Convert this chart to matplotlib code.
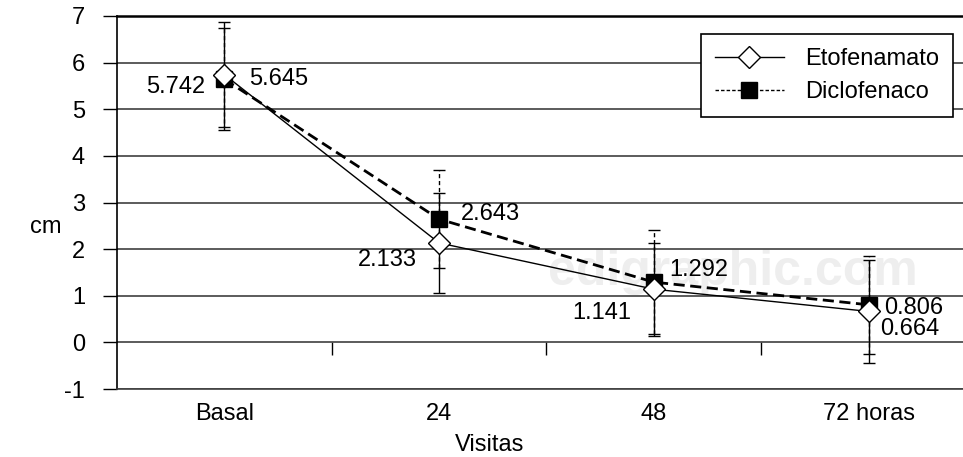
import numpy as np
import matplotlib.pyplot as plt
from matplotlib.lines import Line2D

plt.rcParams['font.family'] = ['Liberation Sans', 'DejaVu Sans']
plt.rcParams['axes.unicode_minus'] = False

visitas = ['Basal', '24', '48', '72 horas']
etofenamato = [5.742, 2.133, 1.141, 0.664]
diclofenaco = [5.645, 2.643, 1.292, 0.806]
eto_err = [1.13, 1.08, 1.0, 1.1]
dic_err = [1.1, 1.05, 1.12, 1.05]

# label offsets (points) for the data values
eto_off = [(-14, -9), (-16, -12), (-16, -17), (8, -13)]
dic_off = [(18, 0), (16, 4), (11, 9), (11, -2)]
eto_ha = ['right', 'right', 'right', 'left']

FS = 17
x = np.arange(len(visitas))

fig = plt.figure(figsize=(9.63, 4.57), dpi=100)
ax = fig.add_axes([117 / 963, 68 / 457, 846 / 963, 373 / 457])

# watermark, behind everything
ax.text(548 / 963, (457 - 272) / 457, 'edigraphic.com', transform=fig.transFigure,
        fontsize=36, fontweight='bold', color='#eeeeee', va='center', zorder=0.1)

ax.set_ylim(-1, 7)
ax.set_xlim(-0.5, 3.44)
ax.set_yticks(range(-1, 8))
ax.yaxis.grid(True, color='#404040', lw=1.2, zorder=0.5)
ax.set_axisbelow(True)

ax.spines['right'].set_visible(False)
ax.spines['top'].set_linewidth(1.8)
ax.spines['left'].set_linewidth(1.2)
ax.spines['bottom'].set_color('#404040')
ax.spines['bottom'].set_linewidth(1.2)

ax.set_xticks(x)
ax.set_xticklabels(visitas)
ax.tick_params(axis='x', length=0, pad=10, labelsize=FS)
ax.tick_params(axis='y', length=10, width=1, pad=13, labelsize=FS)

# category separators on the zero line
sec = ax.secondary_xaxis(1 / 8)
sec.set_xticks(x[:-1] + 0.5)
sec.set_xticklabels([])
sec.tick_params(length=9, width=1, direction='out')
sec.spines['bottom'].set_visible(False)

# error bars
_, _, bars = ax.errorbar(x, diclofenaco, yerr=dic_err, fmt='none', ecolor='black',
                         elinewidth=1, capsize=4, capthick=1, zorder=3)
for b in bars:
    b.set_linestyle((0, (3, 2)))
ax.errorbar(x, etofenamato, yerr=eto_err, fmt='none', ecolor='black',
            elinewidth=1, capsize=4, capthick=1, zorder=3)

ax.plot(x, diclofenaco, color='black', lw=2, linestyle=(0, (4, 2)),
        marker='s', ms=11, mfc='black', mec='black', zorder=4)
ax.plot(x, etofenamato, color='black', lw=1, marker='D', ms=11.5,
        mfc='white', mec='black', mew=1, zorder=5)

for i in range(len(x)):
    ax.annotate('%.3f' % etofenamato[i], (x[i], etofenamato[i]), xytext=eto_off[i],
                textcoords='offset points', ha=eto_ha[i], va='center', fontsize=FS, zorder=6)
    ax.annotate('%.3f' % diclofenaco[i], (x[i], diclofenaco[i]), xytext=dic_off[i],
                textcoords='offset points', ha='left', va='center', fontsize=FS, zorder=6)

handles = [Line2D([], [], color='black', lw=1, marker='D', ms=11, mfc='white', mec='black'),
           Line2D([], [], color='black', lw=1, linestyle=(0, (2.5, 1.5)), marker='s', ms=11,
                  mfc='black', mec='black')]
leg = ax.legend(handles, ['Etofenamato', 'Diclofenaco'], loc='upper right',
                bbox_to_anchor=(953 / 963, (457 - 34) / 457),
                bbox_transform=fig.transFigure, borderaxespad=0, fontsize=FS, frameon=True,
                fancybox=False, edgecolor='black', framealpha=1, handlelength=2.9,
                handletextpad=0.9, labelspacing=0.45, borderpad=0.6)
leg.get_frame().set_linewidth(1.2)

ax.set_xlabel('Visitas', fontsize=FS)
ax.xaxis.set_label_coords((490 - 117) / 846, -0.12)
fig.text(46 / 963, (457 - 227) / 457, 'cm', fontsize=FS, ha='center', va='center')

fig.savefig('out.png', dpi=100)
